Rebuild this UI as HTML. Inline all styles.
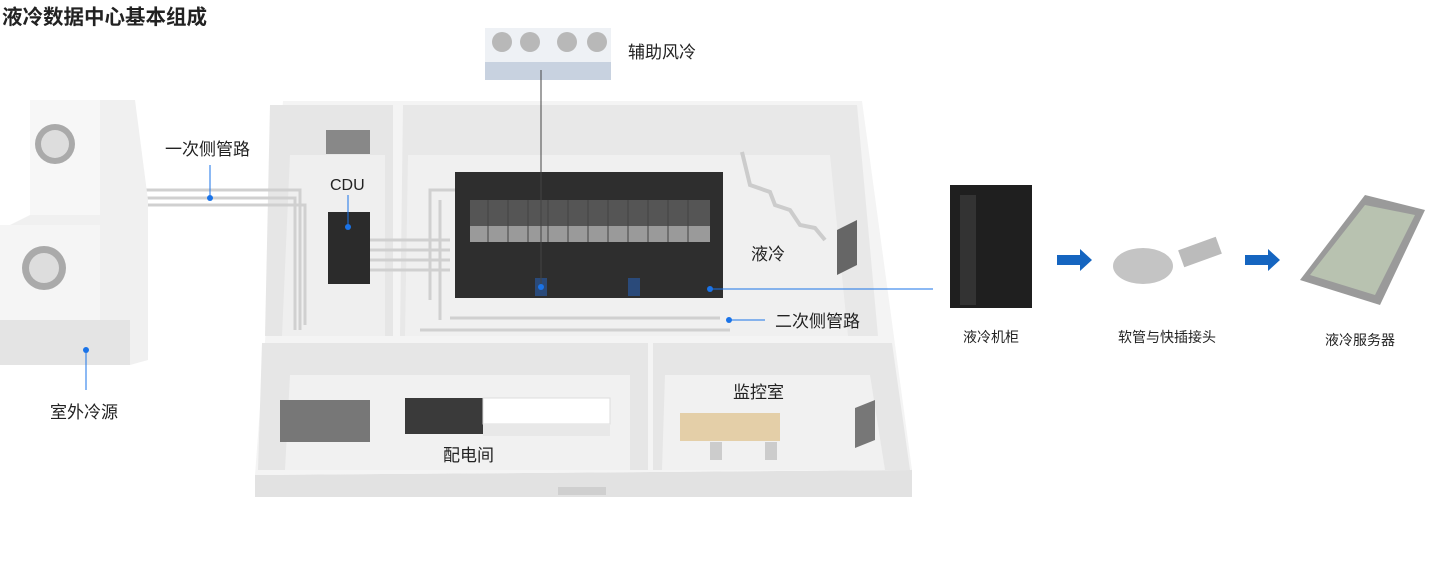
<!DOCTYPE html>
<html><head><meta charset="utf-8"><style>
body{margin:0;background:#fff;width:1433px;height:575px;overflow:hidden;font-family:"Liberation Sans","Noto Sans CJK SC",sans-serif}
svg{position:absolute;left:0;top:0}
text{font-family:"Liberation Sans","Noto Sans CJK SC",sans-serif;fill:#222}
</style></head><body>
<svg width="1433" height="575" viewBox="0 0 1433 575">
<text x="2" y="24" font-size="20.5" font-weight="bold" fill="#111">液冷数据中心基本组成</text>

<!-- building -->
<polygon points="255,475 912,470 912,497 255,497" fill="#e2e2e2"/>
<polygon points="283,101 862,101 912,470 255,475" fill="#f4f4f4"/>
<polygon points="270,105 393,105 393,336 265,336" fill="#e6e6e6"/>
<polygon points="290,155 385,155 385,336 282,336" fill="#efefef"/>
<polygon points="403,105 857,105 878,336 400,336" fill="#e8e8e8"/>
<polygon points="408,155 830,155 848,336 405,336" fill="#f0f0f0"/>
<polygon points="262,343 648,343 648,470 258,470" fill="#e6e6e6"/>
<polygon points="290,375 630,375 630,470 285,470" fill="#f1f1f1"/>
<polygon points="653,343 892,343 910,470 653,470" fill="#e6e6e6"/>
<polygon points="665,375 870,375 885,470 662,470" fill="#f1f1f1"/>
<rect x="558" y="487" width="48" height="8" fill="#cfcfcf"/>

<rect x="326" y="130" width="44" height="24" fill="#888"/>
<g stroke="#d0d0d0" stroke-width="3" fill="none">
<path d="M140,190 H300 V330"/><path d="M140,198 H295 V330"/><path d="M140,205 H305 V325"/>
<path d="M360,240 H450 M360,250 H450 M360,260 H450 M360,270 H450"/>
<path d="M430,300 V190 H460 M440,320 V200 M420,330 H730 M450,318 H720"/>
</g>
<rect x="328" y="212" width="42" height="72" fill="#2b2b2b"/>
<circle cx="348" cy="227" r="3" fill="#1a73e8"/>
<line x1="348" y1="195" x2="348" y2="227" stroke="#1a73e8"/>
<text x="330" y="190" font-size="16">CDU</text>

<!-- container -->
<rect x="455" y="172" width="268" height="126" fill="#2e2e2e"/>
<rect x="470" y="200" width="240" height="42" fill="#555"/>
<rect x="470" y="226" width="240" height="16" fill="#9a9a9a"/>
<g stroke="#444" stroke-width="1"><path d="M488,200V242M508,200V242M528,200V242M548,200V242M568,200V242M588,200V242M608,200V242M628,200V242M648,200V242M668,200V242M688,200V242"/></g>
<rect x="535" y="278" width="12" height="18" fill="#2a4a7a"/><rect x="628" y="278" width="12" height="18" fill="#2a4a7a"/>
<polyline points="742,152 750,185 770,192 775,205 790,210 800,225 815,228 825,240" stroke="#ccc" stroke-width="4" fill="none"/>
<polygon points="837,230 857,220 857,265 837,275" fill="#666"/>
<text x="751" y="260" font-size="17">液冷</text>

<rect x="485" y="28" width="126" height="52" fill="#eef1f5"/>
<rect x="485" y="62" width="126" height="18" fill="#c8d2e0"/>
<circle cx="502" cy="42" r="10" fill="#b8b8b8"/><circle cx="530" cy="42" r="10" fill="#b8b8b8"/><circle cx="567" cy="42" r="10" fill="#b8b8b8"/><circle cx="597" cy="42" r="10" fill="#b8b8b8"/>
<text x="628" y="58" font-size="17">辅助风冷</text>
<line x1="541" y1="70" x2="541" y2="287" stroke="#444"/>
<circle cx="541" cy="287" r="3" fill="#1a73e8"/>

<line x1="710" y1="289" x2="933" y2="289" stroke="#1a73e8"/>
<circle cx="710" cy="289" r="3" fill="#1a73e8"/>
<line x1="729" y1="320" x2="765" y2="320" stroke="#1a73e8"/>
<circle cx="729" cy="320" r="3" fill="#1a73e8"/>
<text x="775" y="327" font-size="17">二次侧管路</text>

<!-- outdoor units -->
<polygon points="30,100 135,100 148,200 148,360 130,365 0,340 0,230 30,215" fill="#f0f0f0"/>
<rect x="30" y="100" width="70" height="115" fill="#f7f7f7"/>
<rect x="0" y="225" width="100" height="95" fill="#f5f5f5"/>
<rect x="0" y="320" width="130" height="45" fill="#e4e4e4"/>
<circle cx="55" cy="144" r="20" fill="#aaa"/><circle cx="55" cy="144" r="14" fill="#ddd"/>
<circle cx="44" cy="268" r="22" fill="#aaa"/><circle cx="44" cy="268" r="15" fill="#ddd"/>
<line x1="86" y1="350" x2="86" y2="390" stroke="#1a73e8"/><circle cx="86" cy="350" r="3" fill="#1a73e8"/>
<text x="50" y="418" font-size="17">室外冷源</text>
<line x1="210" y1="165" x2="210" y2="197" stroke="#1a73e8"/><circle cx="210" cy="198" r="3" fill="#1a73e8"/>
<text x="165" y="155" font-size="17">一次侧管路</text>

<rect x="280" y="400" width="90" height="42" fill="#777"/>
<rect x="405" y="398" width="78" height="36" fill="#3a3a3a"/>
<rect x="483" y="398" width="127" height="26" fill="#fff" stroke="#ddd"/>
<rect x="483" y="424" width="127" height="12" fill="#e8e8e8"/>
<text x="443" y="461" font-size="17">配电间</text>
<rect x="680" y="413" width="100" height="28" fill="#e4cfa8"/>
<rect x="710" y="442" width="12" height="18" fill="#ccc"/><rect x="765" y="442" width="12" height="18" fill="#ccc"/>
<polygon points="855,408 875,400 875,440 855,448" fill="#777"/>
<text x="733" y="398" font-size="17">监控室</text>

<rect x="950" y="185" width="82" height="123" fill="#1f1f1f"/>
<rect x="960" y="195" width="16" height="110" fill="#333"/>
<text x="963" y="342" font-size="14">液冷机柜</text>
<polygon points="1057,255 1080,255 1080,249 1092,260 1080,271 1080,265 1057,265" fill="#1565c0"/>
<ellipse cx="1143" cy="266" rx="30" ry="18" fill="#c4c4c4"/>
<rect x="1180" y="243" width="40" height="18" fill="#bbb" transform="rotate(-20 1200 252)"/>
<text x="1118" y="342" font-size="14">软管与快插接头</text>
<polygon points="1245,255 1268,255 1268,249 1280,260 1268,271 1268,265 1245,265" fill="#1565c0"/>
<polygon points="1300,280 1365,195 1425,210 1380,305" fill="#9a9a9a"/>
<polygon points="1310,275 1365,205 1415,215 1375,295" fill="#b8c2b0"/>
<text x="1325" y="345" font-size="14">液冷服务器</text>
</svg>
</body></html>
